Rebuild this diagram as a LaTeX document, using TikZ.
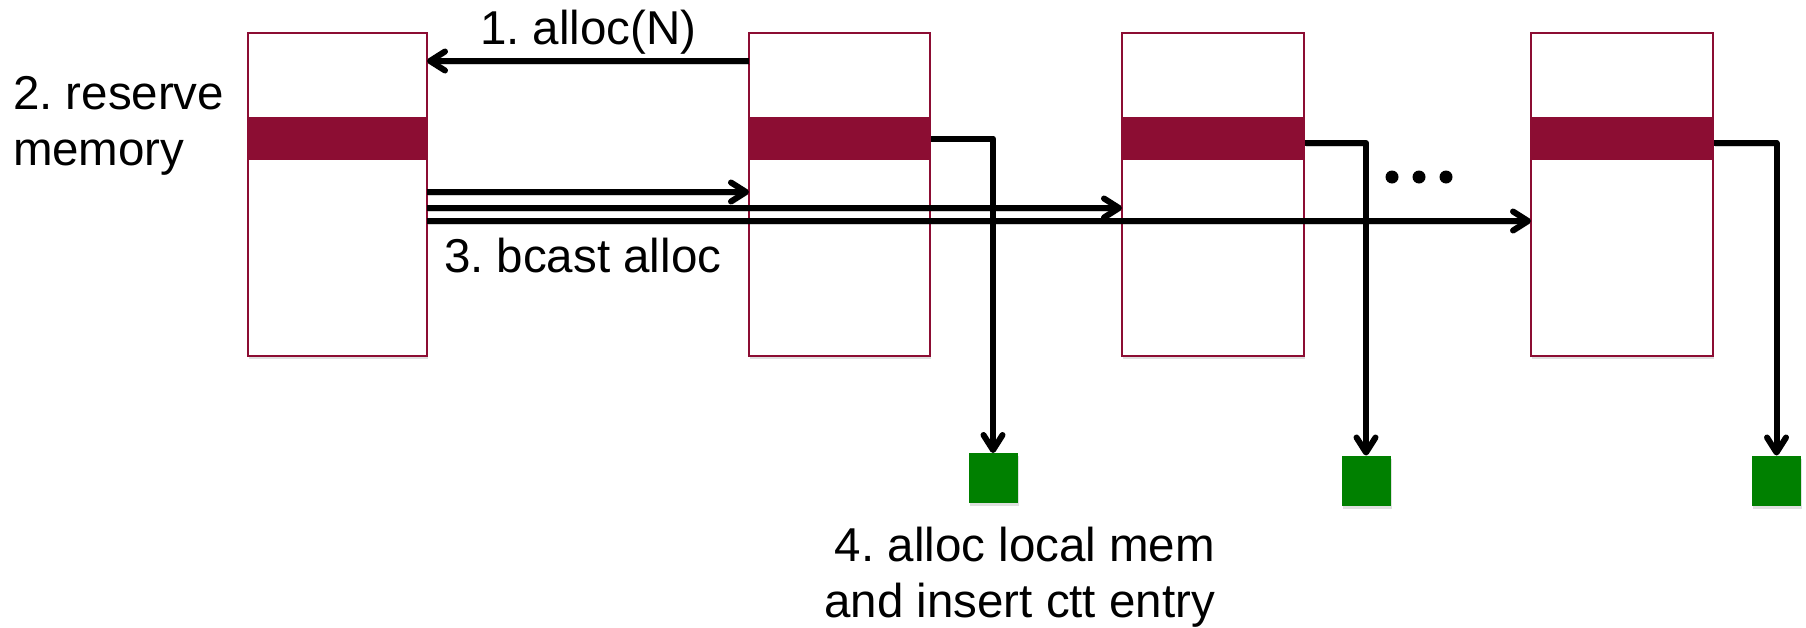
\documentclass[tikz,border=0pt]{standalone}
\usepackage{fontspec}
\setmainfont{Liberation Sans}
\usetikzlibrary{arrows.meta,shadows}
\definecolor{wine}{RGB}{140,13,51}
\definecolor{leaf}{RGB}{0,128,0}
\frenchspacing
\begin{document}
\begin{tikzpicture}[x=1pt,y=-1pt,
  softshadow/.style={drop shadow={shadow xshift=1pt,shadow yshift=-3pt,opacity=.25}},
  membox/.style={draw=wine,line width=2pt,fill=white,inner sep=0pt,outer sep=0pt,
    minimum height=323pt,softshadow},
  band/.style={fill=wine,inner sep=0pt,outer sep=0pt,minimum height=43pt},
  slot/.style={fill=leaf,inner sep=0pt,outer sep=0pt,minimum width=49pt,minimum height=50pt,softshadow},
  arr/.style={line width=6pt,line join=round,
    -{Straight Barb[length=15pt,width=19pt,line cap=round,line join=round]},
    preaction={draw=black,opacity=.18,transform canvas={xshift=1pt,yshift=-3pt}}},
  lbl/.style={inner sep=0pt,outer sep=0pt,font=\fontsize{47.5}{55.5}\selectfont}
]
\useasboundingbox (0,0) rectangle (1806,627);

% memory blocks
\node[membox,minimum width=179pt] (b1) at (337.5,194.5) {};
\node[membox,minimum width=181pt] (b2) at (839.5,194.5) {};
\node[membox,minimum width=182pt] (b3) at (1213,194.5) {};
\node[membox,minimum width=182pt] (b4) at (1622,194.5) {};

% reserved regions
\node[band,minimum width=181pt] (r1) at (337.5,138.5) {};
\node[band,minimum width=183pt] (r2) at (839.5,138.5) {};
\node[band,minimum width=184pt] (r3) at (1213,138.5) {};
\node[band,minimum width=184pt] (r4) at (1622,138.5) {};

% local allocations
\node[slot] (s2) at (993,478) {};
\node[slot] (s3) at (1366,480.5) {};
\node[slot] (s4) at (1776.5,480.5) {};

% ellipsis
\foreach \x in {1392,1419,1446} \fill (\x,177) circle (6.5pt);

% 1. request
\draw[arr] ([yshift=-28pt]b2.north west) -- ([yshift=-28pt]b1.north east);
\node[lbl,anchor=base west] (t1) at (480,44) {1. alloc(N)};

% 2. reserve
\node[lbl,anchor=base west,align=left] (t2) at (13,165) {2. reserve\\memory};

% 3. broadcast
\draw[arr] ([yshift=-159pt]b1.north east) -- ([yshift=-159pt]b2.north west);
\draw[arr] ([yshift=-175pt]b1.north east) -- ([yshift=-175pt]b3.north west);
\draw[arr] ([yshift=-188pt]b1.north east) -- ([yshift=-188pt]b4.north west);
\node[lbl,anchor=base west] (t3) at (444,272) {3. bcast alloc};

% 4. local allocation
\draw[arr] (r2.east) -| (s2.north);
\draw[arr] ([yshift=-4.5pt]r3.east) -| (s3.north);
\draw[arr] ([yshift=-4.5pt]r4.east) -| (s4.north);
\node[lbl,anchor=base east,align=right] (t4) at (1215,617) {4. alloc local mem\\and insert ctt entry};
\end{tikzpicture}
\end{document}
